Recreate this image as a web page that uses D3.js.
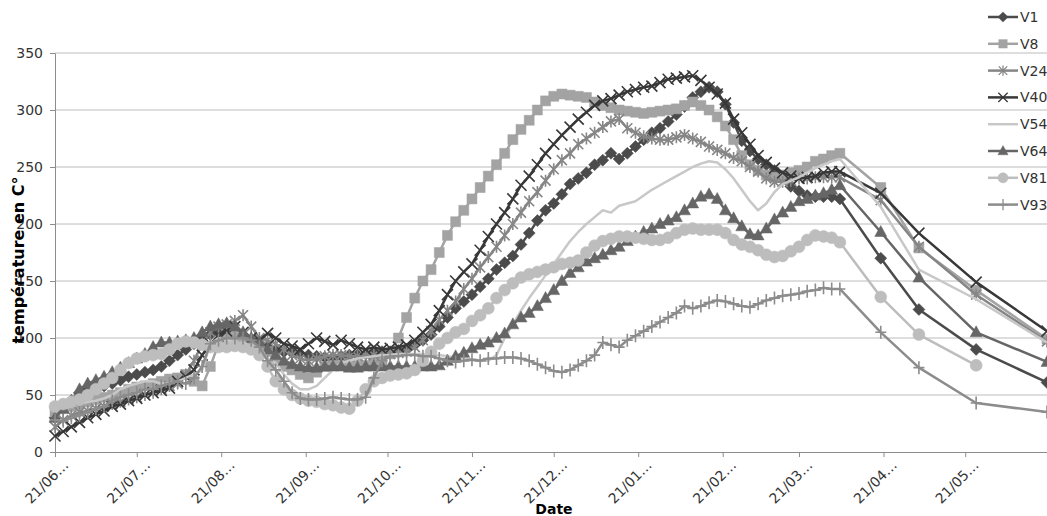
<!DOCTYPE html>
<html>
<head>
<meta charset="utf-8">
<script src="https://cdn.jsdelivr.net/npm/d3@7"></script>
<style>
body { margin: 0; background: #fff; }
svg { display: block; font-family: "DejaVu Sans", Verdana, sans-serif; }
</style>
</head>
<body>
<div id="chart"></div>
<script>
// dense readings: one every 3 days from 21/06/2010, then a few sparse readings
var startDate = new Date(2010, 5, 21);
var stepDays = 3;
var tailDates = ["2011-04-20", "2011-05-04", "2011-05-25", "2011-06-20"];

var seriesNames = ["V1", "V8", "V24", "V40", "V54", "V64", "V81", "V93"];

var v1 = [30,38,45,52,55,57,58,60,63,66, 68,70,72,75,80,85,90,95,100,103,
  105,105,102,100,98,95,92,90,88,87, 86,85,84,83,83,84,85,85,86,87,
  88,88,89,90,94,98,103,110,118,126, 132,138,145,152,160,166,172,182,192,203,
  212,218,226,235,240,245,252,256,262,257, 262,268,274,280,284,290,296,303,311,316,
  320,316,305,289,273,264,257,252,247,240, 233,229,225,224,224,224,222];
var v1Tail = [170,125,90,61];

var v8 = [35,38,40,42,44,46,48,50,52,55, 57,58,60,62,64,65,68,62,58,75,
  95,100,102,100,98,95,88,80,75,72, 68,65,70,75,76,76,77,76,76,78,
  80,86,100,118,135,150,160,175,190,202, 212,222,232,242,252,262,274,283,291,300,
  308,312,314,313,312,311,307,304,302,300, 299,298,297,298,299,300,301,304,307,304,
  300,294,286,274,260,252,247,243,241,243, 245,247,250,255,257,260,262];
var v8Tail = [232,179,142,99];

var v24 = [22,28,32,35,36,38,40,42,44,46, 48,50,52,55,58,60,68,80,95,105,
  110,112,115,120,110,100,98,95,90,85, 82,80,82,84,85,85,84,84,85,85,
  86,86,87,88,92,98,106,116,124,132, 143,152,162,171,180,190,200,210,220,228,
  238,248,256,262,270,275,280,285,290,292, 284,280,277,275,274,274,276,278,275,272,
  268,265,262,258,255,250,246,240,237,237, 238,240,240,241,241,241,241];
var v24Tail = [221,180,138,97];

var v40 = [14,18,22,26,30,33,36,40,42,45, 47,50,52,54,56,62,66,72,85,95,
  102,106,110,105,100,98,104,100,95,93, 90,95,100,97,94,98,95,92,90,92,
  90,91,92,94,98,105,112,124,138,150, 158,165,177,189,200,210,222,234,242,252,
  262,270,278,285,292,298,304,308,310,313, 316,318,320,321,324,327,328,329,330,326,
  320,314,306,292,280,270,260,254,249,245, 242,240,241,242,245,246,246];
var v40Tail = [227,192,149,106];

var v54 = [35,38,40,42,44,45,47,50,55,58, 60,62,62,60,60,62,65,68,72,95,
  100,98,96,95,93,90,82,78,68,60, 55,55,58,65,72,78,80,82,83,84,
  85,85,86,86,86,86,85,85,84,83, 82,81,80,80,85,100,112,124,135,145,
  155,165,175,185,193,200,206,212,210,216, 218,220,225,230,234,238,242,246,250,253,
  255,254,248,240,230,220,212,218,228,235, 238,241,245,249,252,255,257];
var v54Tail = [215,160,134,96];

var v64 = [30,38,45,55,60,63,66,70,74,78, 82,86,92,96,96,97,98,100,105,110,
  112,113,110,105,100,96,90,85,80,77, 75,74,74,75,75,75,74,74,75,75,
  75,75,75,75,75,75,75,76,80,84, 87,91,94,96,100,104,112,118,122,128,
  135,142,150,157,162,167,170,173,177,180, 185,189,193,196,200,203,206,212,218,224,
  226,222,212,205,198,191,190,196,204,210, 215,220,222,225,227,230,234];
var v64Tail = [193,153,105,79];

var v81 = [40,42,44,46,50,55,60,65,72,78, 82,84,85,86,90,95,97,96,94,92,
  92,92,93,92,90,85,75,62,55,50, 47,45,44,42,41,39,38,45,55,62,
  65,67,68,69,72,80,88,95,100,105, 108,115,120,126,135,142,148,153,156,158,
  160,162,165,166,168,175,181,185,187,189, 189,188,187,186,186,188,192,195,196,195,
  195,195,192,186,182,180,177,173,171,172, 176,180,186,190,189,188,184];
var v81Tail = [136,103,76];

var v93 = [28,27,30,32,35,38,40,45,48,50, 52,55,55,58,60,62,60,65,75,95,
  98,100,100,100,98,92,80,72,62,52, 47,46,46,47,48,47,46,46,48,65,
  80,84,84,85,85,84,84,82,80,79, 80,81,80,82,82,83,83,82,80,77,
  74,71,70,72,76,80,85,96,94,92, 98,102,106,110,114,118,122,128,126,128,
  131,133,132,130,128,127,130,133,135,137, 138,139,141,142,144,143,143];
var v93Tail = [105,74,43,35];

var yTicks = [0, 50, 100, 150, 200, 250, 300, 350];
var tickLabels = ["21/06…","21/07…","21/08…","21/09…","21/10…","21/11…",
  "21/12…","21/01…","21/02…","21/03…","21/04…","21/05…"];

var dense = [v1, v8, v24, v40, v54, v64, v81, v93];
var tails = [v1Tail, v8Tail, v24Tail, v40Tail, v54Tail, v64Tail, v81Tail, v93Tail];
var colors = ["#4b4b4b", "#a3a3a3", "#868686", "#383838", "#c8c8c8", "#666666", "#bdbdbd", "#8c8c8c"];
var markers = ["diamond", "square", "asterisk", "x", "none", "triangle", "circle", "plus"];

var W = 1047, H = 516;
var svg = d3.select("#chart").append("svg").attr("width", W).attr("height", H);

var x = d3.scaleTime().domain([startDate, new Date(2011, 5, 20)]).range([55, 1047]);
var y = d3.scaleLinear().domain([0, 350]).range([452, 53]);

var parse = d3.timeParse("%Y-%m-%d");
var tickDates = tickLabels.map(function(t, i){ return new Date(2010, 5 + i, 21); });

// gridlines
svg.append("g").selectAll("line").data(yTicks.slice(1)).enter().append("line")
  .attr("x1", 55).attr("x2", W)
  .attr("y1", function(d){ return y(d); }).attr("y2", function(d){ return y(d); })
  .attr("stroke", "#bcbcbc").attr("stroke-width", 1);

// axes
var yAxis = svg.append("g").attr("transform", "translate(55,0)")
  .call(d3.axisLeft(y).tickValues(yTicks).tickSize(5).tickPadding(7).tickSizeOuter(0));
var xAxis = svg.append("g").attr("transform", "translate(0,452)")
  .call(d3.axisBottom(x).tickValues(tickDates).tickSize(5).tickSizeOuter(0)
    .tickFormat(function(d, i){ return tickLabels[i]; }));

[yAxis, xAxis].forEach(function(a){
  a.select(".domain").attr("stroke", "#8c8c8c");
  a.selectAll(".tick line").attr("stroke", "#8c8c8c");
  a.selectAll("text").attr("fill", "#333").attr("font-size", 14)
    .attr("font-family", "DejaVu Sans, Verdana, sans-serif");
});
xAxis.selectAll(".tick text")
  .attr("x", 0).attr("y", 0).attr("dy", 0)
  .attr("text-anchor", "end")
  .attr("transform", "translate(14,14) rotate(-45)");

svg.append("text").attr("x", 554).attr("y", 514).attr("text-anchor", "middle")
  .attr("font-weight", "bold").attr("font-size", 14).attr("fill", "#000").text("Date");
svg.append("text").attr("transform", "translate(24,260) rotate(-90)")
  .attr("text-anchor", "middle").attr("font-weight", "bold").attr("font-size", 16)
  .attr("fill", "#000").text("température en C°");

function markerPath(type){
  if(type == "diamond") return "M0,-6L6,0L0,6L-6,0Z";
  if(type == "square") return "M-5,-5H5V5H-5Z";
  if(type == "triangle") return "M0,-6.5L6,4.5L-6,4.5Z";
  if(type == "circle") return "M6,0A6,6 0 1,1 -6,0A6,6 0 1,1 6,0Z";
  if(type == "x") return "M-5.5,-5.5L5.5,5.5M-5.5,5.5L5.5,-5.5";
  if(type == "asterisk") return "M-5,-5L5,5M-5,5L5,-5M0,-6V6";
  if(type == "plus") return "M0,-6.5V6.5M-5.5,0H5.5";
  return "";
}
function isStroke(type){ return type == "x" || type == "asterisk" || type == "plus"; }

var line = d3.line().x(function(d){ return x(d.date); }).y(function(d){ return y(d.v); });

var plot = svg.append("g");
for(var s = 0 ; s < seriesNames.length ; s ++){
  var pts = [];
  for(var i = 0 ; i < dense[s].length ; i ++)
    pts.push({date: d3.timeDay.offset(startDate, i * stepDays), v: dense[s][i]});
  for(var k = 0 ; k < tails[s].length ; k ++)
    pts.push({date: parse(tailDates[k]), v: tails[s][k]});

  var g = plot.append("g");
  g.append("path").datum(pts).attr("d", line).attr("fill", "none")
    .attr("stroke", colors[s]).attr("stroke-width", 2.5).attr("stroke-linejoin", "round");
  if(markers[s] != "none"){
    var stroke = isStroke(markers[s]);
    g.selectAll("path.m").data(pts).enter().append("path").attr("class", "m")
      .attr("transform", function(d){ return "translate(" + x(d.date) + "," + y(d.v) + ")"; })
      .attr("d", markerPath(markers[s]))
      .attr("fill", stroke ? "none" : colors[s])
      .attr("stroke", colors[s]).attr("stroke-width", stroke ? 1.6 : 0.5);
  }
}

// legend
var legend = svg.append("g").attr("transform", "translate(988,17)");
seriesNames.forEach(function(name, i){
  var lg = legend.append("g").attr("transform", "translate(0," + (i * 26.8) + ")");
  lg.append("line").attr("x1", 0).attr("x2", 30).attr("stroke", colors[i]).attr("stroke-width", 2.5);
  if(markers[i] != "none"){
    var st = isStroke(markers[i]);
    lg.append("path").attr("transform", "translate(15,0) scale(0.85)").attr("d", markerPath(markers[i]))
      .attr("fill", st ? "none" : colors[i]).attr("stroke", colors[i]).attr("stroke-width", st ? 1.5 : 0.5);
  }
  lg.append("text").attr("x", 32).attr("dy", "0.36em").attr("font-size", 14)
    .attr("fill", "#333").text(name);
});
</script>
</body>
</html>
